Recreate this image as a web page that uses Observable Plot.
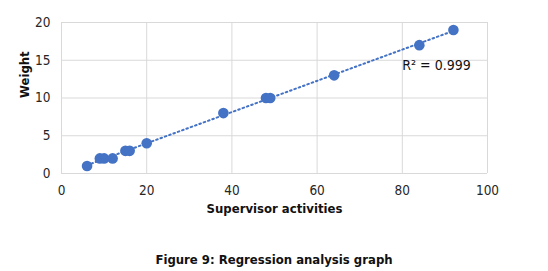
<!DOCTYPE html>
<html><head><meta charset="utf-8">
<script src="https://cdn.jsdelivr.net/npm/d3@7"></script>
<script src="https://cdn.jsdelivr.net/npm/@observablehq/plot@0.6"></script>
<style>
body{margin:0;background:#fff;font-family:"DejaVu Sans Condensed","DejaVu Sans",sans-serif;}
#cap{width:548px;text-align:center;font-weight:bold;font-size:13px;color:#111;line-height:16px;margin-top:11px;}
</style></head>
<body><div id="chart"></div><div id="cap">Figure 9: Regression analysis graph</div>
<script>
const supervisorActivities = [6, 9, 10, 12, 15, 16, 20, 38, 48, 49, 64, 84, 92];
const weight = [1, 2, 2, 2, 3, 3, 4, 8, 10, 10, 13, 17, 19];
const xTicks = [0, 20, 40, 60, 80, 100];
const yTicks = [0, 5, 10, 15, 20];
const r2Label = "R² = 0.999";
const xLabel = "Supervisor activities";
const yLabel = "Weight";

const data = supervisorActivities.map((x, i) => ({x, y: weight[i]}));
const blue = "#4472C4";
const plot = Plot.plot({
  width: 548, height: 241,
  marginLeft: 61, marginRight: 61, marginTop: 22, marginBottom: 68,
  style: {fontFamily: "'DejaVu Sans Condensed','DejaVu Sans',sans-serif", fontSize: "13px", color: "#262626"},
  x: {domain: [0, 100], ticks: xTicks},
  y: {domain: [0, 20], ticks: yTicks},
  marks: [
    Plot.gridX(xTicks, {stroke: "#d9d9d9", strokeOpacity: 1}),
    Plot.gridY(yTicks, {stroke: "#d9d9d9", strokeOpacity: 1}),
    Plot.axisX(xTicks, {tickSize: 0, tickPadding: 12, fontSize: 13.5, label: null}),
    Plot.axisY(yTicks, {tickSize: 0, tickPadding: 11, fontSize: 13.5, label: null}),
    Plot.text([xLabel], {frameAnchor: "bottom", dy: 39, fontWeight: "bold", fontSize: 13, fill: "#111"}),
    Plot.text([yLabel], {frameAnchor: "left", dx: -37, rotate: -90, fontWeight: "bold", fontSize: 13, fill: "#111"}),
    Plot.linearRegressionY(data, {x: "x", y: "y", ci: 0, stroke: blue, strokeWidth: 2, strokeDasharray: "1.6,3"}),
    Plot.dot(data, {x: "x", y: "y", r: 5.3, fill: blue}),
    Plot.text([r2Label], {x: () => 80, y: () => 14.3, textAnchor: "start", fontSize: 14, fill: "#111"})
  ]
});
document.getElementById("chart").appendChild(plot);
</script></body></html>
